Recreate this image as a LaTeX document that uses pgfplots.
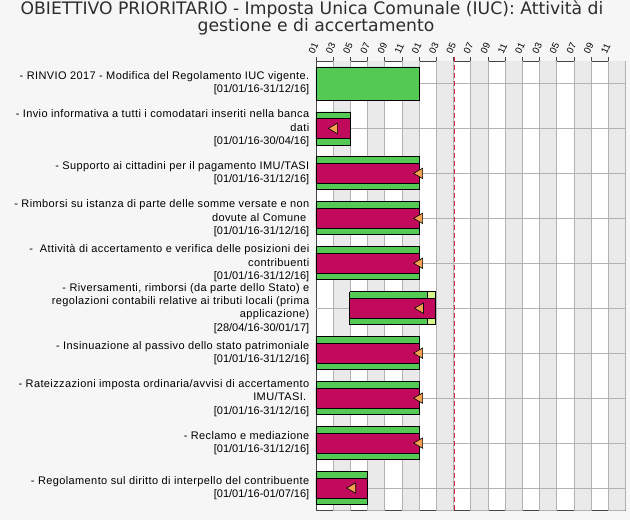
\documentclass[border=0pt]{standalone}
\usepackage{fontspec}
\setmainfont{Liberation Sans}
\newfontfamily\lsfont[LetterSpace=3.5]{Liberation Sans}
\newfontfamily\titlefont{DejaVu Sans}
\usepackage{pgfplots}
\pgfplotsset{compat=1.18}
\definecolor{bgc}{RGB}{246,246,246}
\definecolor{bandc}{RGB}{234,234,234}
\definecolor{gridc}{RGB}{178,178,178}
\definecolor{framec}{RGB}{70,70,70}
\definecolor{greenc}{RGB}{84,202,84}
\definecolor{magc}{RGB}{194,10,92}
\definecolor{yelc}{RGB}{218,244,140}
\definecolor{orangec}{RGB}{244,160,80}
\definecolor{todayc}{RGB}{214,30,70}
\definecolor{titlec}{RGB}{45,45,45}
\pgfplotsset{
  band/.style={fill=bandc, draw=none, forget plot},
  gbar/.style={fill=greenc, draw=black, line width=0.8pt, line join=miter, forget plot},
  mbar/.style={fill=magc, draw=black, line width=0.8pt, line join=miter, forget plot},
  ybar2/.style={fill=yelc, draw=black, line width=0.8pt, line join=miter, forget plot},
}
\begin{document}
\begin{tikzpicture}
\fill[bgc] (0,0) rectangle (630pt,520pt);
\node[font=\titlefont\fontsize{17.2}{17}\selectfont, text=titlec, anchor=base, inner sep=0pt] at (312pt,505pt)
  {OBIETTIVO PRIORITARIO - Imposta Unica Comunale (IUC): Attività di};
\node[font=\titlefont\fontsize{17.2}{17}\selectfont, text=titlec, anchor=base, inner sep=0pt] at (316pt,488pt)
  {gestione e di accertamento};
\begin{axis}[
  at={(316pt,9.5pt)}, anchor=south west,
  scale only axis, width=309.6pt, height=449.5pt,
  xmin=0, xmax=36, ymin=0.5, ymax=10.5, y dir=reverse,
  axis background/.style={fill=white},
  xtick={0,2,...,34},
  xticklabels={01,03,05,07,09,11,01,03,05,07,09,11,01,03,05,07,09,11},
  xtick pos=right, xticklabel pos=right,
  tick align=outside, major tick length=4pt,
  xticklabel style={xshift=-4.8pt, yshift=3.6pt, rotate=65, anchor=west, inner sep=0pt, font=\fontsize{9.5}{9.5}\selectfont},
  ytick={1,...,10},
  ytick style={draw=none},
  yticklabel style={align=right, anchor=east, font=\fontsize{11}{13.3}\selectfont, inner sep=2.5pt},
  yticklabels={
    {{\lsfont - RINVIO 2017 - Modifica del Regolamento IUC vigente.}\\{[}01/01/16-31/12/16{]}},
    {{\lsfont - Invio informativa a tutti i comodatari inseriti nella banca}\\{\lsfont dati}\\{[}01/01/16-30/04/16{]}},
    {{\lsfont - Supporto ai cittadini per il pagamento IMU/TASI}\\{[}01/01/16-31/12/16{]}},
    {{\lsfont - Rimborsi su istanza di parte delle somme versate e non}\\{\lsfont dovute al Comune}\kern3pt\\{[}01/01/16-31/12/16{]}},
    {{\lsfont -\ \ Attività di accertamento e verifica delle posizioni dei}\\{\lsfont contribuenti}\\{[}01/01/16-31/12/16{]}},
    {{\lsfont - Riversamenti, rimborsi (da parte dello Stato) e}\\{\lsfont regolazioni contabili relative ai tributi locali (prima}\\{\lsfont applicazione)}\\{[}28/04/16-30/01/17{]}},
    {{\lsfont - Insinuazione al passivo dello stato patrimoniale}\\{[}01/01/16-31/12/16{]}},
    {{\lsfont - Rateizzazioni imposta ordinaria/avvisi di accertamento}\\{\lsfont IMU/TASI.}\kern3pt\\{[}01/01/16-31/12/16{]}},
    {{\lsfont - Reclamo e mediazione}\\{[}01/01/16-31/12/16{]}},
    {{\lsfont - Regolamento sul diritto di interpello del contribuente}\\{[}01/01/16-01/07/16{]}}
  },
  axis line style={draw=framec, line width=0.8pt},
  tick style={draw=framec, line width=0.6pt},
  clip=false,
]
% alternating column bands
\addplot[band] coordinates {(2,0.5) (4,0.5) (4,10.5) (2,10.5) (2,0.5)};
\addplot[band] coordinates {(6,0.5) (8,0.5) (8,10.5) (6,10.5) (6,0.5)};
\addplot[band] coordinates {(10,0.5) (12,0.5) (12,10.5) (10,10.5) (10,0.5)};
\addplot[band] coordinates {(14,0.5) (16,0.5) (16,10.5) (14,10.5) (14,0.5)};
\addplot[band] coordinates {(18,0.5) (20,0.5) (20,10.5) (18,10.5) (18,0.5)};
\addplot[band] coordinates {(22,0.5) (24,0.5) (24,10.5) (22,10.5) (22,0.5)};
\addplot[band] coordinates {(26,0.5) (28,0.5) (28,10.5) (26,10.5) (26,0.5)};
\addplot[band] coordinates {(30,0.5) (32,0.5) (32,10.5) (30,10.5) (30,0.5)};
\addplot[band] coordinates {(34,0.5) (36,0.5) (36,10.5) (34,10.5) (34,0.5)};
% grid lines
\addplot[gridc, line width=0.6pt, unbounded coords=jump, forget plot] coordinates {
  (2,0.5) (2,10.5) (nan,nan) (4,0.5) (4,10.5) (nan,nan) (6,0.5) (6,10.5) (nan,nan)
  (8,0.5) (8,10.5) (nan,nan) (10,0.5) (10,10.5) (nan,nan) (12,0.5) (12,10.5) (nan,nan)
  (14,0.5) (14,10.5) (nan,nan) (16,0.5) (16,10.5) (nan,nan) (18,0.5) (18,10.5) (nan,nan)
  (20,0.5) (20,10.5) (nan,nan) (22,0.5) (22,10.5) (nan,nan) (24,0.5) (24,10.5) (nan,nan)
  (26,0.5) (26,10.5) (nan,nan) (28,0.5) (28,10.5) (nan,nan) (30,0.5) (30,10.5) (nan,nan)
  (32,0.5) (32,10.5) (nan,nan) (34,0.5) (34,10.5) (nan,nan)
  (0,1) (36,1) (nan,nan) (0,2) (36,2) (nan,nan) (0,3) (36,3) (nan,nan) (0,4) (36,4) (nan,nan)
  (0,5) (36,5) (nan,nan) (0,6) (36,6) (nan,nan) (0,7) (36,7) (nan,nan) (0,8) (36,8) (nan,nan)
  (0,9) (36,9) (nan,nan) (0,10) (36,10)};
% today line
\addplot[todayc, line width=0.9pt, dash pattern=on 5pt off 3pt, forget plot] coordinates {(16.05,0.4) (16.05,10.5)};
% task 1
\addplot[gbar] coordinates {(0,0.633) (12,0.633) (12,1.367) (0,1.367) (0,0.633)};
% task 2
\addplot[gbar] coordinates {(0,1.633) (4,1.633) (4,2.367) (0,2.367) (0,1.633)};
\addplot[mbar] coordinates {(0,1.778) (4,1.778) (4,2.222) (0,2.222) (0,1.778)};
% task 3
\addplot[gbar] coordinates {(0,2.633) (12,2.633) (12,3.367) (0,3.367) (0,2.633)};
\addplot[mbar] coordinates {(0,2.778) (12,2.778) (12,3.222) (0,3.222) (0,2.778)};
% task 4
\addplot[gbar] coordinates {(0,3.633) (12,3.633) (12,4.367) (0,4.367) (0,3.633)};
\addplot[mbar] coordinates {(0,3.778) (12,3.778) (12,4.222) (0,4.222) (0,3.778)};
% task 5
\addplot[gbar] coordinates {(0,4.633) (12,4.633) (12,5.367) (0,5.367) (0,4.633)};
\addplot[mbar] coordinates {(0,4.778) (12,4.778) (12,5.222) (0,5.222) (0,4.778)};
% task 6
\addplot[ybar2] coordinates {(13,5.633) (13.85,5.633) (13.85,6.367) (13,6.367) (13,5.633)};
\addplot[gbar] coordinates {(3.9,5.633) (13,5.633) (13,6.367) (3.9,6.367) (3.9,5.633)};
\addplot[mbar] coordinates {(3.9,5.778) (13.85,5.778) (13.85,6.222) (3.9,6.222) (3.9,5.778)};
% task 7
\addplot[gbar] coordinates {(0,6.633) (12,6.633) (12,7.367) (0,7.367) (0,6.633)};
\addplot[mbar] coordinates {(0,6.778) (12,6.778) (12,7.222) (0,7.222) (0,6.778)};
% task 8
\addplot[gbar] coordinates {(0,7.633) (12,7.633) (12,8.367) (0,8.367) (0,7.633)};
\addplot[mbar] coordinates {(0,7.778) (12,7.778) (12,8.222) (0,8.222) (0,7.778)};
% task 9
\addplot[gbar] coordinates {(0,8.633) (12,8.633) (12,9.367) (0,9.367) (0,8.633)};
\addplot[mbar] coordinates {(0,8.778) (12,8.778) (12,9.222) (0,9.222) (0,8.778)};
% task 10
\addplot[gbar] coordinates {(0,9.633) (6,9.633) (6,10.367) (0,10.367) (0,9.633)};
\addplot[mbar] coordinates {(0,9.778) (6,9.778) (6,10.222) (0,10.222) (0,9.778)};
% progress markers
\addplot[only marks, mark=triangle*, mark size=6pt,
  mark options={rotate=90, fill=orangec, draw=black, line width=0.6pt}, forget plot]
  coordinates {(2.13,2) (12.05,3) (12.05,4) (12.05,5) (12.15,6) (12.05,7) (12.05,8) (12.05,9) (4.27,10)};
\end{axis}
\end{tikzpicture}
\end{document}
